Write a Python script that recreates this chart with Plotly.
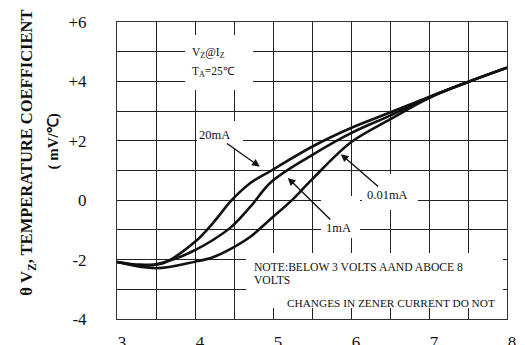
import plotly.graph_objects as go

# ---- data ----
x_20mA = [3.0, 3.3, 3.59, 4.0, 4.23, 4.47, 4.71, 4.98, 5.5, 6.0, 6.5, 7.0, 7.5, 8.0]
y_20mA = [-2.08, -2.17, -2.12, -1.40, -0.77, 0.0, 0.58, 1.0, 1.8, 2.43, 2.95, 3.48, 3.98, 4.46]

x_1mA = [3.0, 3.4, 3.77, 4.0, 4.23, 4.47, 4.71, 4.98, 5.5, 6.0, 6.5, 7.0, 7.5, 8.0]
y_1mA = [-2.08, -2.2, -1.95, -1.68, -1.34, -0.89, -0.22, 0.62, 1.52, 2.26, 2.85, 3.46, 3.98, 4.46]

x_001mA = [3.0, 3.5, 4.0, 4.23, 4.47, 4.71, 4.98, 5.25, 5.5, 6.0, 6.5, 7.0, 7.5, 8.0]
y_001mA = [-2.08, -2.29, -2.07, -1.92, -1.62, -1.23, -0.61, 0.02, 0.7, 1.95, 2.72, 3.44, 3.98, 4.46]

x_ticks = [3, 4, 5, 6, 7, 8]
x_ticklabels = ["3", "4", "5", "6", "7", "8"]
y_ticks = [-4, -2, 0, 2, 4, 6]
y_ticklabels = ["-4", "-2", "0", "+2", "+4", "+6"]

SERIF = "Liberation Serif, Times New Roman, serif"

fig = go.Figure()
for xs, ys in [(x_20mA, y_20mA), (x_1mA, y_1mA), (x_001mA, y_001mA)]:
    fig.add_trace(go.Scatter(x=xs, y=ys, mode="lines",
                             line=dict(color="#111", width=2.6, shape="spline", smoothing=1.0),
                             showlegend=False, hoverinfo="skip"))

# white label boxes hiding the grid
boxes = [
    (3.872, 4.744, 3.71, 5.562),
    (4.026, 4.615, 1.758, 2.667),
    (6.141, 6.859, -0.33, 0.882),
    (5.615, 6.115, -1.273, 0.141),
    (4.654, 7.949, -3.63, -1.778),
]
for x0, x1, y0, y1 in boxes:
    fig.add_shape(type="rect", xref="x", yref="y", x0=x0, x1=x1, y0=y0, y1=y1,
                  fillcolor="white", line=dict(width=0), layer="above")

txt = dict(family=SERIF, color="#111")
arrow = dict(showarrow=True, arrowhead=2, arrowsize=1.1, arrowwidth=1.4, arrowcolor="#111",
             axref="x", ayref="y")
ann = []
# condition label
ann.append(dict(x=3.936, y=4.956, text="V<sub>Z</sub>@I<sub>Z</sub>", xanchor="left",
                showarrow=False, font=dict(size=11.5, **txt)))
ann.append(dict(x=3.936, y=4.316, text="T<sub>A</sub>=25\u2103", xanchor="left",
                showarrow=False, font=dict(size=11.5, **txt)))
# curve labels with arrows (tail at label, head at curve)
ann.append(dict(ax=4.256, ay=2.195, x=4.83, y=1.13, text="20mA", font=dict(size=12.5, **txt), **arrow))
ann.append(dict(ax=6.474, ay=0.175, x=5.87, y=1.55, text="0.01mA", font=dict(size=12.5, **txt), **arrow))
ann.append(dict(ax=5.846, ay=-0.936, x=5.19, y=0.75, text="1mA", font=dict(size=12.5, **txt), **arrow))
# note
ann.append(dict(x=4.727, y=-2.249, text="NOTE:BELOW 3 VOLTS AAND ABOCE 8", xanchor="left",
                showarrow=False, font=dict(size=11.6, **txt)))
ann.append(dict(x=4.727, y=-2.687, text="VOLTS", xanchor="left",
                showarrow=False, font=dict(size=11.6, **txt)))
ann.append(dict(x=5.154, y=-3.461, text="CHANGES IN ZENER CURRENT DO NOT", xanchor="left",
                showarrow=False, font=dict(size=11.3, **txt)))
# y-axis title (two lines)
ann.append(dict(xref="paper", yref="paper", x=-0.2615, y=0.56, textangle=-90,
                text="<b>\u03b8 V<sub>Z</sub>, TEMPERATURE COEFFICIENT</b>", showarrow=False,
                font=dict(size=16.5, **txt)))
ann.append(dict(xref="paper", yref="paper", x=-0.1897, y=0.596, textangle=-90,
                text="<b>( mV/\u2103)</b>", showarrow=False, font=dict(size=15, **txt)))

fig.update_layout(annotations=ann)

grid = dict(showgrid=True, gridcolor="#222", gridwidth=1)
fig.update_xaxes(range=[3, 8], tickvals=x_ticks, ticktext=x_ticklabels, **grid,
                 minor=dict(dtick=0.5, showgrid=True, gridcolor="#222", gridwidth=1),
                 showline=True, linecolor="#333", linewidth=1, mirror=True, zeroline=False,
                 ticks="", tickfont=dict(family=SERIF, size=17, color="#111"),
                 ticklabelstandoff=8, ticklabelshift=5, automargin=False)
fig.update_yaxes(range=[-4, 6], tickvals=y_ticks, ticktext=y_ticklabels, **grid,
                 minor=dict(dtick=1, showgrid=True, gridcolor="#222", gridwidth=1),
                 showline=True, linecolor="#333", linewidth=1, mirror=True, zeroline=False,
                 ticks="", tickfont=dict(family=SERIF, size=17, color="#111"),
                 ticklabelstandoff=26, automargin=False)
fig.update_layout(width=517, height=337, margin=dict(l=109, r=18, t=14, b=26, autoexpand=False),
                  paper_bgcolor="white", plot_bgcolor="white")
fig.write_html("out.html")
